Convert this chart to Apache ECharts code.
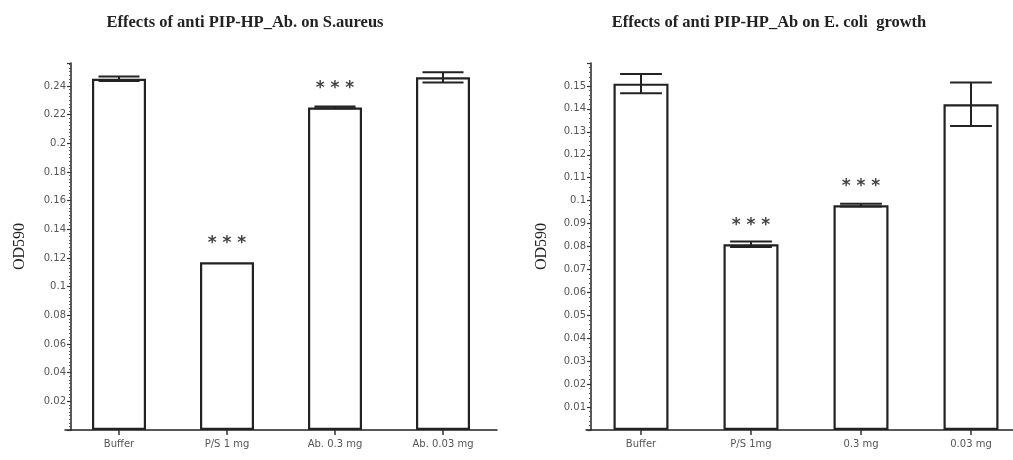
<!DOCTYPE html>
<html>
<head>
<meta charset="utf-8">
<script src="https://cdn.jsdelivr.net/npm/echarts@6/dist/echarts.min.js"></script>
<style>
html,body{margin:0;padding:0;background:#fff;}
#c{width:1013px;height:460px;}
</style>
</head>
<body>
<div id="c"></div>
<script>
// ---- data ----
const leftTitle = 'Effects of anti PIP-HP_Ab. on S.aureus';
const rightTitle = 'Effects of anti PIP-HP_Ab on E. coli  growth';
const leftCategories = ['Buffer', 'P/S 1 mg', 'Ab. 0.3 mg', 'Ab. 0.03 mg'];
const leftValues = [0.245, 0.117, 0.225, 0.246];
const leftErrors = [0.0016, 0, 0.0006, 0.0036];
const leftStars = ['', '* * *', '* * *', ''];
const rightCategories = ['Buffer', 'P/S 1mg', '0.3 mg', '0.03 mg'];
const rightValues = [0.151, 0.081, 0.098, 0.142];
const rightErrors = [0.0042, 0.0012, 0.0006, 0.0095];
const rightStars = ['', '* * *', '* * *', ''];
const yTitle = 'OD590';

const chart = echarts.init(document.getElementById('c'), null, {renderer: 'canvas'});

function fmt(v) { return v === 0 ? '' : String(+v.toFixed(2)); }

function yAxisCfg(gridIndex, max, interval, offset, minorSplit, gap) {
  return {
    type: 'value', gridIndex: gridIndex, min: 0, max: max, interval: interval,
    offset: offset,
    name: yTitle, nameLocation: 'middle', nameGap: gap,
    nameTextStyle: {fontFamily: 'Liberation Serif', fontSize: 16, color: '#222'},
    axisLine: {show: true, lineStyle: {color: '#222', width: 1.5}},
    axisTick: {show: true, length: 4, lineStyle: {color: '#333', width: 1.2}},
    minorTick: {show: true, splitNumber: minorSplit, length: 2, lineStyle: {color: '#555', width: 1}},
    axisLabel: {formatter: fmt, fontFamily: 'DejaVu Sans', fontSize: 10, color: '#555', margin: 5,
      showMaxLabel: false},
    splitLine: {show: false}
  };
}

function xAxisCfg(gridIndex, cats) {
  return {
    type: 'category', gridIndex: gridIndex, data: cats, boundaryGap: true,
    axisLine: {show: true, lineStyle: {color: '#222', width: 1.5}},
    axisTick: {show: true, alignWithLabel: true, length: 5, lineStyle: {color: '#333', width: 1.5}},
    axisLabel: {fontFamily: 'DejaVu Sans', fontSize: 10, color: '#555', margin: 9}
  };
}

function barSeries(idx, values, stars) {
  return {
    type: 'bar', xAxisIndex: idx, yAxisIndex: idx, data: values, barWidth: '50%',
    itemStyle: {color: '#fff', borderColor: '#222', borderWidth: 2.2},
    label: {show: true, position: 'top', distance: 10,
      formatter: p => stars[p.dataIndex],
      fontFamily: 'DejaVu Sans', fontWeight: 'bold', fontSize: 17, color: '#444'},
    z: 2
  };
}

function errSeries(idx, values, errors) {
  return {
    type: 'custom', xAxisIndex: idx, yAxisIndex: idx,
    data: values.map((v, i) => [i, v, errors[i]]),
    renderItem: function (params, api) {
      const x = api.value(0), v = api.value(1), e = api.value(2);
      if (!e) return null;
      const top = api.coord([x, v + e]);
      const bot = api.coord([x, v - e]);
      const hw = api.size([1, 0])[0] * 0.19;
      const style = {stroke: '#222', lineWidth: 2};
      return {
        type: 'group',
        children: [
          {type: 'line', shape: {x1: top[0], y1: top[1], x2: bot[0], y2: bot[1]}, style: style},
          {type: 'line', shape: {x1: top[0] - hw, y1: top[1], x2: top[0] + hw, y2: top[1]}, style: style},
          {type: 'line', shape: {x1: bot[0] - hw, y1: bot[1], x2: bot[0] + hw, y2: bot[1]}, style: style}
        ]
      };
    },
    z: 5
  };
}

chart.setOption({
  animation: false,
  backgroundColor: '#fff',
  title: [
    {text: leftTitle, left: 240, top: 9, textAlign: 'center',
      textStyle: {fontFamily: 'Liberation Serif', fontSize: 16.5, fontWeight: 'bold', color: '#222'}},
    {text: rightTitle, left: 764, top: 9, textAlign: 'center',
      textStyle: {fontFamily: 'Liberation Serif', fontSize: 16.5, fontWeight: 'bold', color: '#222'}}
  ],
  grid: [
    {left: 65, top: 63, width: 432, bottom: 30, outerBoundsMode: 'none'},
    {left: 586, top: 63, width: 440, bottom: 30, outerBoundsMode: 'none'}
  ],
  xAxis: [xAxisCfg(0, leftCategories), xAxisCfg(1, rightCategories)],
  yAxis: [yAxisCfg(0, 0.256, 0.02, -6, 8, 43), yAxisCfg(1, 0.16, 0.01, -5, 5, 41)],
  series: [
    barSeries(0, leftValues, leftStars),
    errSeries(0, leftValues, leftErrors),
    barSeries(1, rightValues, rightStars),
    errSeries(1, rightValues, rightErrors)
  ]
});
</script>
</body>
</html>
